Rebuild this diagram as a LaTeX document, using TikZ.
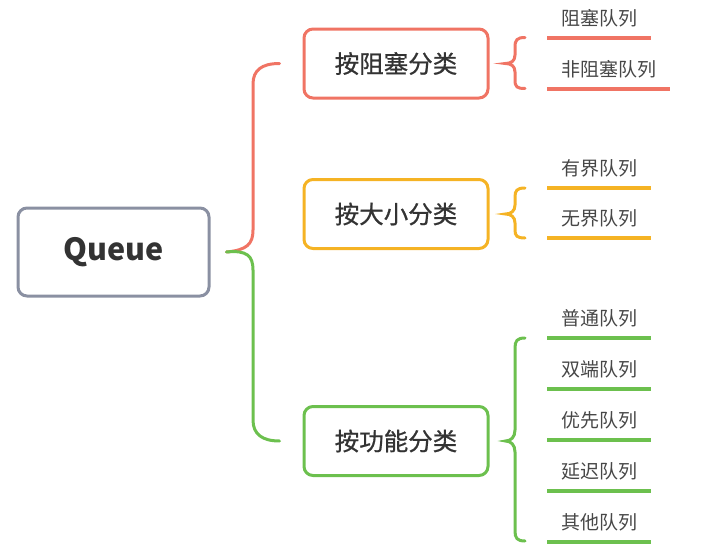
\documentclass[tikz,border=0pt]{standalone}
\usepackage{fontspec}
\setmainfont{Noto Sans CJK SC}
\newfontfamily\boxfont[FakeBold=0.8]{Noto Sans CJK SC}
\usetikzlibrary{calc}
\definecolor{cred}{HTML}{F07464}
\definecolor{corange}{HTML}{F5B324}
\definecolor{cgreen}{HTML}{6CC04E}
\definecolor{cgray}{HTML}{8A90A2}
\definecolor{ctext}{HTML}{333333}
\begin{document}
\begin{tikzpicture}[x=1pt,y=-1pt,
  rootbox/.style={draw=cgray,line width=3pt,rounded corners=9pt,minimum width=191pt,minimum height=88pt,text=ctext,font=\fontsize{30.5}{36}\selectfont\bfseries},
  catbox/.style={draw=#1,line width=3pt,rounded corners=9pt,minimum width=184pt,minimum height=69pt,text=ctext,font=\boxfont\fontsize{24.5}{28}\selectfont},
  leaf/.style={anchor=west,inner xsep=14pt,inner ysep=0pt,text=ctext!90,font=\fontsize{19}{22}\selectfont},
  ul/.style={draw=#1,line width=4pt},
  br/.style={draw=#1,line width=3pt,line cap=round}]
\useasboundingbox (0,0) rectangle (724,554);
\node[rootbox] (q) at (113.5,252) {Queue};
\node[catbox=cred] (c1) at (396,63.5) {按阻塞分类};
\node[catbox=corange] (c2) at (396,214) {按大小分类};
\node[catbox=cgreen] (c3) at (396,441) {按功能分类};
% main bracket
\coordinate (m) at ($(q.east)+(16,0)$);
\coordinate (e1) at ($(c1.west)+(-23,0)$);
\coordinate (e3) at ($(c3.west)+(-23,0)$);
\draw[br=cred] (m) .. controls (247,250) and (253,244) .. (253,230) -- (253,84) .. controls (253,70) and (262,63.5) .. (e1);
\draw[br=cgreen] (m) .. controls (247,250) and (253,256) .. (253,270) -- (253,420) .. controls (253,434) and (262,441) .. (e3);
% leaves
\node[leaf] (a1) at (547,18) {阻塞队列};
\node[leaf] (a2) at (547,69) {非阻塞队列};
\node[leaf] (b1) at (547,168) {有界队列};
\node[leaf] (b2) at (547,218) {无界队列};
\node[leaf] (g1) at (547,318) {普通队列};
\node[leaf] (g2) at (547,369) {双端队列};
\node[leaf] (g3) at (547,420) {优先队列};
\node[leaf] (g4) at (547,471) {延迟队列};
\node[leaf] (g5) at (547,522) {其他队列};
\foreach \n/\c in {a1/cred,a2/cred,b1/corange,b2/corange,g1/cgreen,g2/cgreen,g3/cgreen,g4/cgreen,g5/cgreen}{
  \draw[ul=\c] ($(\n.west)+(0,19.5)$) -- ($(\n.east)+(0,19.5)$);
}
% small brackets
\coordinate (t1) at ($(c1.east)+(16,0)$);
\draw[br=cred] (525,37.5) .. controls (517,37.5) and (515,40) .. (515,47) -- (515,55) .. controls (515,61) and (511,63.5) .. (t1)
  .. controls (511,63.5) and (515,66) .. (515,72) -- (515,80) .. controls (515,87) and (517,88.5) .. (525,88.5);
\coordinate (t2) at ($(c2.east)+(16,0)$);
\draw[br=corange] (525,188) .. controls (517,188) and (515,190.5) .. (515,197) -- (515,205) .. controls (515,211) and (511,214) .. (t2)
  .. controls (511,214) and (515,217) .. (515,223) -- (515,230) .. controls (515,236) and (517,238) .. (525,238);
\coordinate (t3) at ($(c3.east)+(16,0)$);
\draw[br=cgreen] (525,338) .. controls (517,338) and (515,341) .. (515,348) -- (515,430) .. controls (515,437) and (511,441) .. (t3)
  .. controls (511,441) and (515,445) .. (515,452) -- (515,531) .. controls (515,538) and (517,541) .. (525,541);
\end{tikzpicture}
\end{document}
